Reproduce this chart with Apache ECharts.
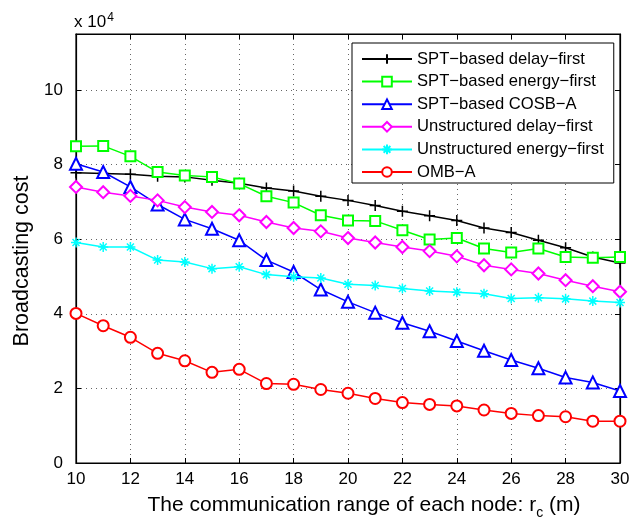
<!DOCTYPE html>
<html>
<head>
<meta charset="utf-8">
<script src="https://cdn.jsdelivr.net/npm/echarts@6/dist/echarts.min.js"></script>
<style>html,body{margin:0;padding:0;background:#fff;}#c{width:642px;height:519px;}</style>
</head>
<body>
<div id="c"></div>
<script>
// x values: communication range r_c (m)
var ranges = [10,11,12,13,14,15,16,17,18,19,20,21,22,23,24,25,26,27,28,29,30];
// Broadcasting cost in units of 10^4
var sptDelayFirst   = [7.78,7.76,7.74,7.69,7.67,7.58,7.50,7.37,7.29,7.15,7.04,6.90,6.75,6.63,6.50,6.30,6.18,5.97,5.77,5.52,5.36];
var sptEnergyFirst  = [8.49,8.50,8.22,7.80,7.71,7.67,7.49,7.15,6.98,6.64,6.50,6.49,6.24,5.99,6.03,5.75,5.64,5.75,5.52,5.50,5.52];
var sptCosbA        = [8.02,7.80,7.40,6.93,6.53,6.28,5.97,5.44,5.12,4.65,4.32,4.03,3.76,3.53,3.27,3.01,2.76,2.54,2.29,2.16,1.93];
var unstrDelayFirst = [7.40,7.26,7.16,7.04,6.86,6.73,6.64,6.46,6.30,6.21,6.03,5.91,5.79,5.68,5.54,5.30,5.19,5.08,4.90,4.74,4.59];
var unstrEnergyFirst= [5.91,5.79,5.79,5.44,5.39,5.21,5.26,5.05,4.99,4.96,4.79,4.76,4.68,4.61,4.58,4.54,4.41,4.43,4.40,4.34,4.30];
var ombA            = [4.01,3.68,3.37,2.94,2.74,2.43,2.51,2.13,2.11,1.97,1.87,1.73,1.62,1.57,1.53,1.42,1.33,1.27,1.24,1.12,1.12];
var seriesNames = ['SPT\u2212based delay\u2212first','SPT\u2212based energy\u2212first','SPT\u2212based COSB\u2212A','Unstructured delay\u2212first','Unstructured energy\u2212first','OMB\u2212A'];
var yTicks = [0,2,4,6,8,10];

var FONT = 'Liberation Sans, Arial, sans-serif';
function pair(arr){ return ranges.map(function(x,i){ return [x, arr[i]]; }); }

var plusPath = 'path://M0,-1L0,1M-1,0L1,0';
var starPath = 'path://M0,-1L0,1M-1,0L1,0M-0.7,-0.7L0.7,0.7M-0.7,0.7L0.7,-0.7';

var defs = [
  {data: sptDelayFirst,    color:'#000000', symbol: plusPath,        size: 11},
  {data: sptEnergyFirst,   color:'#00ff00', symbol: 'emptyRect',     size: 10},
  {data: sptCosbA,         color:'#0000ff', symbol: 'emptyTriangle', size: 12},
  {data: unstrDelayFirst,  color:'#ff00ff', symbol: 'emptyDiamond',  size: 12},
  {data: unstrEnergyFirst, color:'#00ffff', symbol: starPath,        size: 10},
  {data: ombA,             color:'#ff0000', symbol: 'emptyCircle',   size: 11}
];

var series = defs.map(function(d, i){
  return {
    name: seriesNames[i],
    type: 'line',
    data: pair(d.data),
    symbol: d.symbol,
    symbolSize: d.size,
    showAllSymbol: true,
    lineStyle: {color: d.color, width: 1.5},
    itemStyle: {color: d.color, borderColor: d.color, borderWidth: 1.5},
    emphasis: {disabled: true},
    animation: false,
    z: 3 + i
  };
});

var chart = echarts.init(document.getElementById('c'), null, {renderer: 'canvas'});
var gridSplit = {show: true, lineStyle: {color: '#666', type: [1,4], width: 1}};
chart.setOption({
  backgroundColor: '#ffffff',
  animation: false,
  grid: {left: 76, right: 22, top: 34, bottom: 56, containLabel: false, outerBoundsMode: 'none',
         show: true, borderColor: '#000', borderWidth: 1.2, backgroundColor: 'transparent'},
  legend: {
    data: seriesNames,
    left: 352, top: 43, width: 260,
    orient: 'vertical',
    itemWidth: 50, itemHeight: 12, itemGap: 4.6,
    padding: [7, 10, 2, 9],
    borderColor: '#000', borderWidth: 1, backgroundColor: '#fff',
    textStyle: {fontFamily: FONT, fontSize: 16.6, color: '#000', lineHeight: 18},
    selectedMode: false
  },
  xAxis: [{
    type: 'value', min: 10, max: 30, interval: 2,
    name: 'The communication range of each node: r{sub|c} (m)',
    nameLocation: 'middle', nameGap: 27,
    nameTextStyle: {fontFamily: FONT, fontSize: 21, color: '#000', padding: [0,0,0,32],
      rich: {sub: {fontFamily: FONT, fontSize: 14, color:'#000', verticalAlign: 'bottom', padding: [16,0,0,0]}}},
    axisLine: {show: true, onZero: false, lineStyle: {color: '#000', width: 1.2}},
    axisTick: {show: true, inside: true, length: 5, lineStyle: {color: '#000'}},
    axisLabel: {fontFamily: FONT, fontSize: 17, color: '#000', margin: 8},
    splitLine: gridSplit
  }, {
    type: 'value', min: 10, max: 30, interval: 2, position: 'top',
    axisLine: {show: true, onZero: false, lineStyle: {color: '#000', width: 1.2}},
    axisTick: {show: true, inside: true, length: 5, lineStyle: {color: '#000'}},
    axisLabel: {show: false}, splitLine: {show: false}
  }],
  yAxis: [{
    type: 'value', min: 0, max: 11.5, interval: 2,
    name: 'Broadcasting cost',
    nameLocation: 'middle', nameGap: 42, nameRotate: 90,
    nameTextStyle: {fontFamily: FONT, fontSize: 21.5, color: '#000', padding: [0,25,0,0]},
    axisLine: {show: true, onZero: false, lineStyle: {color: '#000', width: 1.2}},
    axisTick: {show: true, inside: true, length: 5, lineStyle: {color: '#000'}},
    axisLabel: {fontFamily: FONT, fontSize: 17, color: '#000', margin: 13, showMaxLabel: false,
      formatter: function(v){ return yTicks.indexOf(v) >= 0 ? String(v) : ''; }},
    splitLine: gridSplit
  }, {
    type: 'value', min: 0, max: 11.5, interval: 2, position: 'right',
    axisLine: {show: true, onZero: false, lineStyle: {color: '#000', width: 1.2}},
    axisTick: {show: true, inside: true, length: 5, lineStyle: {color: '#000'}},
    axisLabel: {show: false}, splitLine: {show: false}
  }],
  graphic: [{
    type: 'text', left: 74, top: 12,
    style: {text: 'x 10{sup|4}', rich: {sup: {fontSize: 12, verticalAlign: 'top', padding: [0,0,9,1], fontFamily: FONT, fill:'#000'}},
            fontFamily: FONT, fontSize: 17, fill: '#000'}
  }],
  series: series
});
</script>
</body>
</html>
